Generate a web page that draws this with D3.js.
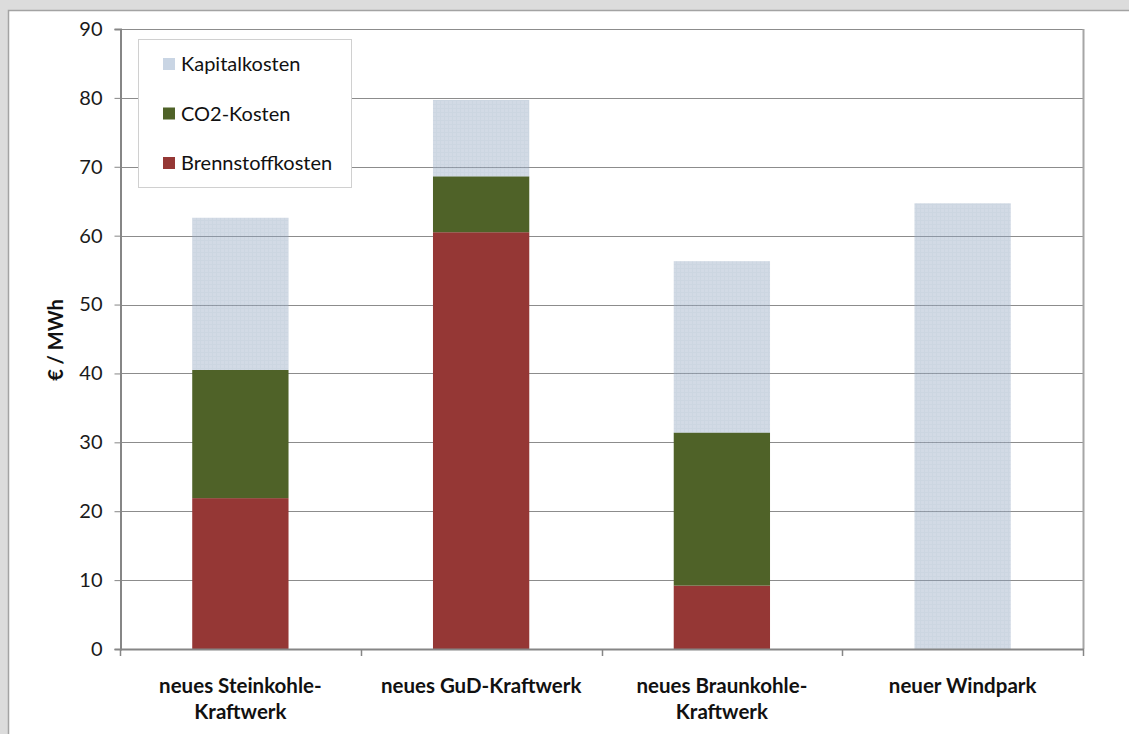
<!DOCTYPE html>
<html>
<head>
<meta charset="utf-8">
<script src="https://cdn.jsdelivr.net/npm/d3@7/dist/d3.min.js"></script>
<style>
  html, body { margin: 0; padding: 0; background: #dcdcdc; }
  svg { display: block; font-family: Lato, "Open Sans", sans-serif; }
</style>
</head>
<body>
<svg id="chart" width="1129" height="734"></svg>
<script>
// Stromgestehungskosten neuer Kraftwerke (€/MWh)
const categories = [
  ["neues Steinkohle-", "Kraftwerk"],
  ["neues GuD-Kraftwerk"],
  ["neues Braunkohle-", "Kraftwerk"],
  ["neuer Windpark"]
];
const brennstoffkosten = [21.9, 60.5, 9.2, 0];
const co2Kosten        = [18.6, 8.1, 22.2, 0];
const kapitalkosten    = [22.1, 11.1, 24.9, 64.7];
const seriesNames  = ["Brennstoffkosten", "CO2-Kosten", "Kapitalkosten"];
const yTicks = [0, 10, 20, 30, 40, 50, 60, 70, 80, 90];

const colors = {
  "Brennstoffkosten": "#953735",
  "CO2-Kosten": "#4f6228",
  "Kapitalkosten": "#9badc5"
};

const svg = d3.select("#chart");
const W = 1129, H = 734;
const plot = { left: 120, right: 1083, top: 29, bottom: 649 };

// chart frame
svg.append("rect")
  .attr("x", 8.5).attr("y", 10.5)
  .attr("width", W + 10).attr("height", H + 10)
  .attr("fill", "#ffffff").attr("stroke", "#a3a3a3").attr("stroke-width", 1.5);

// texture for the capital cost bars
const defs = svg.append("defs");
const pat = defs.append("pattern")
  .attr("id", "kapital-tex").attr("patternUnits", "userSpaceOnUse")
  .attr("width", 4).attr("height", 4);
pat.append("rect").attr("width", 4).attr("height", 4)
  .attr("fill", colors["Kapitalkosten"]);
pat.append("rect").attr("x", 0).attr("y", 0).attr("width", 4).attr("height", 1)
  .attr("fill", "#8fa3bd");
pat.append("rect").attr("x", 0).attr("y", 0).attr("width", 1).attr("height", 4)
  .attr("fill", "#8fa3bd");

const x = d3.scaleBand()
  .domain(d3.range(categories.length))
  .range([plot.left, plot.right])
  .paddingInner(0.6).paddingOuter(0.3);

const y = d3.scaleLinear().domain([0, 90]).range([plot.bottom, plot.top]);

// horizontal gridlines
svg.append("g")
  .selectAll("line")
  .data(yTicks.filter(d => d > 0))
  .join("line")
  .attr("x1", plot.left).attr("x2", plot.right)
  .attr("y1", d => Math.round(y(d)) + 0.5).attr("y2", d => Math.round(y(d)) + 0.5)
  .attr("stroke", "#8c8c8c").attr("stroke-width", 1);

// right border of plot area
svg.append("line")
  .attr("x1", plot.right + 0.5).attr("x2", plot.right + 0.5)
  .attr("y1", plot.top).attr("y2", plot.bottom)
  .attr("stroke", "#a6a6a6").attr("stroke-width", 2);

// stacked bars
const table = categories.map((c, i) => ({
  idx: i,
  "Brennstoffkosten": brennstoffkosten[i],
  "CO2-Kosten": co2Kosten[i],
  "Kapitalkosten": kapitalkosten[i]
}));
const stacked = d3.stack().keys(seriesNames)(table);

const layers = svg.append("g").selectAll("g")
  .data(stacked)
  .join("g");

layers.selectAll("rect")
  .data(d => d.map(p => ({ key: d.key, p })))
  .join("rect")
  .attr("x", d => x(d.p.data.idx))
  .attr("width", x.bandwidth())
  .attr("y", d => y(d.p[1]))
  .attr("height", d => Math.max(0, y(d.p[0]) - y(d.p[1])))
  .attr("fill", d => d.key === "Kapitalkosten" ? "url(#kapital-tex)" : colors[d.key])
  .attr("fill-opacity", d => d.key === "Kapitalkosten" ? 0.45 : 1);

// y axis
const yAxis = d3.axisLeft(y).tickValues(yTicks).tickSize(6).tickPadding(12)
  .tickFormat(d3.format("d"));
const gy = svg.append("g").attr("transform", `translate(${plot.left + 0.5},0)`).call(yAxis);
gy.select(".domain").attr("stroke", "#868686").attr("stroke-width", 2);
gy.selectAll(".tick line").attr("stroke", "#868686");
gy.selectAll(".tick text").attr("font-size", 20).attr("fill", "#1a1a1a")
  .attr("font-family", "Lato, sans-serif");

// x axis with ticks at category boundaries
svg.append("line")
  .attr("x1", plot.left).attr("x2", plot.right + 1)
  .attr("y1", plot.bottom + 0.5).attr("y2", plot.bottom + 0.5)
  .attr("stroke", "#868686").attr("stroke-width", 2);
const boundaries = d3.range(categories.length + 1).map(i => plot.left + i * (plot.right - plot.left) / categories.length);
svg.append("g").selectAll("line")
  .data(boundaries)
  .join("line")
  .attr("x1", d => Math.round(d) + 0.5).attr("x2", d => Math.round(d) + 0.5)
  .attr("y1", plot.bottom).attr("y2", plot.bottom + 7)
  .attr("stroke", "#868686").attr("stroke-width", 1.5);

// category labels
const catLabels = svg.append("g").selectAll("text")
  .data(categories)
  .join("text")
  .attr("x", (d, i) => x(i) + x.bandwidth() / 2)
  .attr("y", 693)
  .attr("text-anchor", "middle")
  .attr("font-size", 20.5).attr("font-weight", "bold").attr("fill", "#111");
catLabels.selectAll("tspan")
  .data(d => d)
  .join("tspan")
  .attr("x", function () { return d3.select(this.parentNode).attr("x"); })
  .attr("dy", (d, i) => i === 0 ? 0 : 26)
  .text(d => d);

// y axis title
svg.append("text")
  .attr("transform", "translate(63,340) rotate(-90)")
  .attr("text-anchor", "middle")
  .attr("font-size", 20).attr("font-weight", "bold").attr("fill", "#111")
  .text("€ / MWh");

// legend
const legend = svg.append("g");
legend.append("rect")
  .attr("x", 138.5).attr("y", 39.5).attr("width", 213).attr("height", 148)
  .attr("fill", "#ffffff").attr("stroke", "#d0d0d0").attr("stroke-width", 1);
const legendOrder = ["Kapitalkosten", "CO2-Kosten", "Brennstoffkosten"];
const li = legend.selectAll("g.item")
  .data(legendOrder)
  .join("g").attr("class", "item")
  .attr("transform", (d, i) => `translate(163,${64 + i * 49.5})`);
li.append("rect")
  .attr("x", 0).attr("y", -6).attr("width", 12).attr("height", 12)
  .attr("fill", d => d === "Kapitalkosten" ? "#c9d5e4" : colors[d]);
li.append("text")
  .attr("x", 18).attr("y", 0).attr("dy", "0.35em")
  .attr("font-size", 20).attr("fill", "#111")
  .text(d => d);
</script>
</body>
</html>
